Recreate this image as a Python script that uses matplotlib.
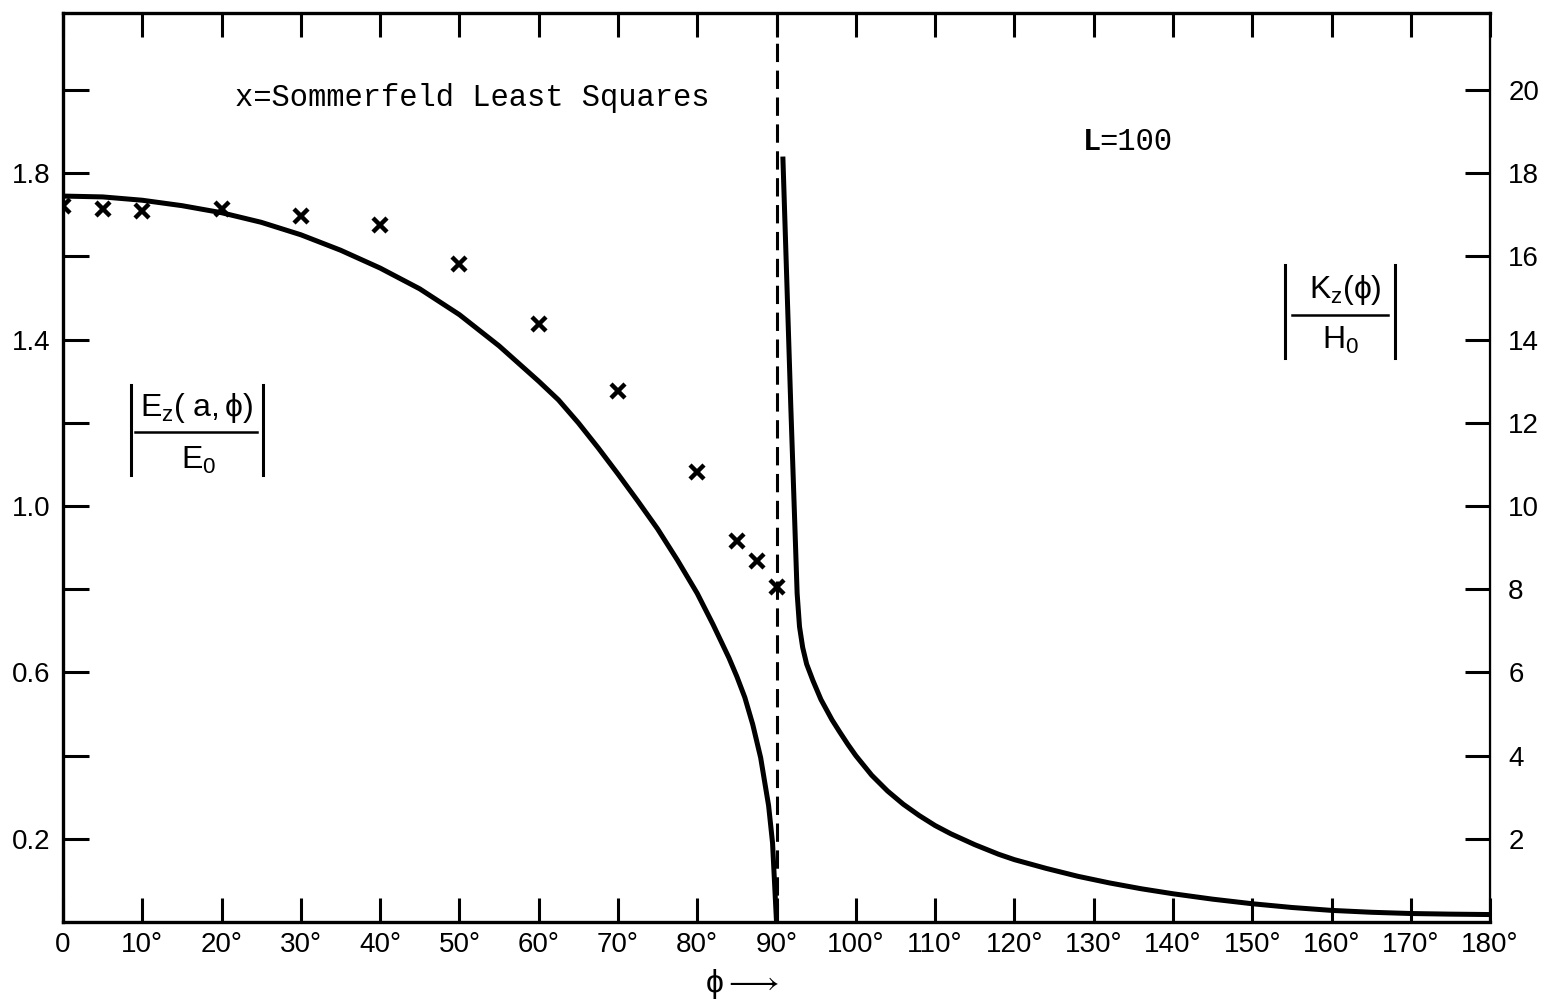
import matplotlib
matplotlib.use("Agg")
import matplotlib.pyplot as plt
from matplotlib.lines import Line2D

plt.rcParams["font.family"] = ["Liberation Sans", "DejaVu Sans"]
plt.rcParams["mathtext.fontset"] = "custom"
plt.rcParams["mathtext.rm"] = "Liberation Sans"
plt.rcParams["mathtext.it"] = "Liberation Sans"
plt.rcParams["mathtext.bf"] = "Liberation Sans:bold"
plt.rcParams["mathtext.fallback"] = "stixsans"

W, H = 1547, 1002

# |Ez(a,phi)/E0| (left axis), exact solution
phi_e = [0, 5, 10, 15, 20, 25, 30, 35, 40, 45, 50, 55, 60, 62.5, 65, 67.5, 70, 72.5,
         75, 77.5, 80, 82, 84, 85, 86, 87, 88, 89, 89.5, 90]
ez = [1.745, 1.743, 1.735, 1.722, 1.705, 1.682, 1.652, 1.615, 1.572, 1.522, 1.46,
      1.385, 1.30, 1.255, 1.20, 1.14, 1.077, 1.012, 0.945, 0.87, 0.79, 0.715,
      0.635, 0.59, 0.54, 0.475, 0.395, 0.28, 0.19, 0.0]

# Sommerfeld least squares points
phi_s = [0, 5, 10, 20, 30, 40, 50, 60, 70, 80, 85, 87.5, 90]
ez_s = [1.721, 1.714, 1.709, 1.714, 1.697, 1.676, 1.582, 1.438, 1.276, 1.082,
        0.916, 0.868, 0.805]

# |Kz(phi)/H0| (right axis)
phi_k = [90.8, 91.3, 91.8, 92.3, 92.6, 92.9, 93.3, 93.8, 94.6, 95.6, 97, 98, 99,
         100, 102, 104, 106, 108, 110, 112, 115, 118, 120, 124, 128, 132, 136,
         140, 145, 150, 155, 160, 165, 170, 175, 180]
kz = [18.4, 15.4, 12.4, 9.6, 7.9, 7.1, 6.6, 6.2, 5.8, 5.35, 4.86, 4.56, 4.27,
      4.0, 3.53, 3.15, 2.83, 2.56, 2.32, 2.12, 1.86, 1.63, 1.5, 1.29, 1.1, 0.94,
      0.8, 0.68, 0.55, 0.44, 0.35, 0.28, 0.235, 0.205, 0.19, 0.18]

x_ticks = list(range(0, 181, 10))
x_labels = ["0"] + ["%d°" % v for v in x_ticks[1:]]
left_ticks = [0.2, 0.4, 0.6, 0.8, 1.0, 1.2, 1.4, 1.6, 1.8, 2.0]
left_labels = ["0.2", "", "0.6", "", "1.0", "", "1.4", "", "1.8", ""]
right_ticks = [2, 4, 6, 8, 10, 12, 14, 16, 18, 20]


def fxy(px, py):
    return px / W, 1 - py / H


def bracket_fraction(fig, num, den, num_xy, den_xy, bar_x, bar_y, line_x, line_y):
    # |num / den| label drawn as text plus thin lines, positions in pixels
    fig.text(*fxy(*num_xy), num, fontsize=23, ha="center", va="center")
    fig.text(*fxy(*den_xy), den, fontsize=23, ha="center", va="center")
    x0, x1 = line_x
    fig.add_artist(Line2D([x0 / W, x1 / W], [1 - line_y / H] * 2, color="black", lw=1.8))
    for bx in bar_x:
        fig.add_artist(Line2D([bx / W] * 2, [1 - bar_y[0] / H, 1 - bar_y[1] / H],
                              color="black", lw=2.2))


fig = plt.figure(figsize=(W / 100, H / 100), dpi=100)
ax = fig.add_axes([0.0407, 0.0798, 0.9225, 0.9072])
ax2 = ax.twinx()

ax.plot(phi_e, ez, color="black", lw=3.6, solid_capstyle="butt")
ax.plot(phi_s, ez_s, ls="none", marker="x", ms=10, mew=3.2, color="black")
ax.axvline(90, color="black", lw=2.2, ls=(0, (6, 2.8)))
ax2.plot(phi_k, kz, color="black", lw=3.6, solid_capstyle="butt")

ax.set_xlim(0, 180)
ax.set_ylim(0, 2.185)
ax2.set_ylim(0, 21.85)

ax.set_xticks(x_ticks)
ax.set_xticklabels(x_labels, fontsize=20)
ax.set_yticks(left_ticks)
ax.set_yticklabels(left_labels, fontsize=20)
ax2.set_yticks(right_ticks)
ax2.set_yticklabels([str(v) for v in right_ticks], fontsize=20)

ax.tick_params(axis="x", direction="in", length=17, width=2.2, top=True, pad=7)
ax.tick_params(axis="y", direction="in", length=19, width=2.2, pad=9)
ax2.tick_params(axis="y", direction="in", length=18, width=2.2, pad=13)

for s in ["left", "top", "bottom"]:
    ax.spines[s].set_linewidth(2.4)
ax2.spines["right"].set_linewidth(1.6)
for s in ["left", "top", "bottom"]:
    ax2.spines[s].set_visible(False)

fig.text(*fxy(742, 984), r"$\phi\longrightarrow$", fontsize=23,
         ha="center", va="center")

ax.text(0.2866, 0.9065, "x=Sommerfeld Least Squares", transform=ax.transAxes,
        family="Liberation Mono", fontsize=22, ha="center", va="center")
fig.text(*fxy(1101, 142), "L", family="Liberation Mono", fontweight="bold",
         fontsize=22, ha="right", va="center")
fig.text(*fxy(1099, 142), "=100", family="Liberation Mono",
         fontsize=22, ha="left", va="center")

bracket_fraction(fig, r"$E_z(\ a,\phi)$", r"$E_0$", (197, 408), (198, 460),
                 (131, 263), (385, 475), (135, 257), 432)
bracket_fraction(fig, r"$K_z(\phi)$", r"$H_0$", (1345, 290), (1340, 340),
                 (1285, 1395), (265, 358), (1292, 1388), 315)

fig.savefig("out.png", dpi=100)
